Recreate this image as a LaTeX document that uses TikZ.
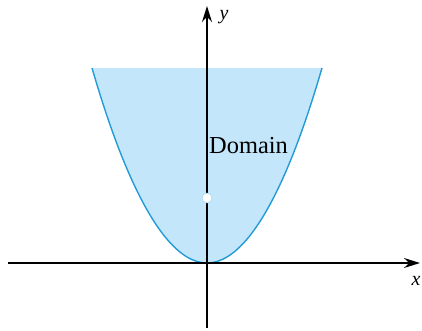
\documentclass[tikz,border=0pt]{standalone}
\usepackage{fontspec}
\setmainfont{Liberation Serif}
\usetikzlibrary{arrows.meta}
\definecolor{domfill}{RGB}{195,230,250}
\definecolor{curveblue}{RGB}{35,155,215}

\begin{document}
\begin{tikzpicture}[x=1bp, y=-1bp, >={Stealth[length=16bp, width=10bp]},
  axis/.style={line width=1.4bp, ->},
  lbl/.style={inner sep=0pt, font=\fontsize{20}{24}\selectfont\itshape},
  every node/.style={inner sep=0pt}]
\useasboundingbox (0,0) rectangle (422,331);
\fill[domfill] (92,68) parabola bend (207,263) (322,68) -- cycle;
\draw[curveblue, line width=1.4bp] (92,68) parabola bend (207,263) (322,68);
\coordinate (xs) at (8,263);
\coordinate (xe) at (420,263);
\coordinate (ys) at (207,328);
\coordinate (ye) at (207,6);
\draw[axis] (xs) -- (xe);
\draw[axis] (ys) -- (ye);
\node[lbl] (ylab) at (224,17) {y};
\node[lbl] (xlab) at (416,281) {x};
\node[anchor=base west, font=\fontsize{24.5}{28}\selectfont] (dom) at (209,153) {Domain};
\node[circle, fill=white, draw=curveblue!40, line width=0.6bp, minimum size=10bp] (hole) at (207,198) {};
\end{tikzpicture}
\end{document}
